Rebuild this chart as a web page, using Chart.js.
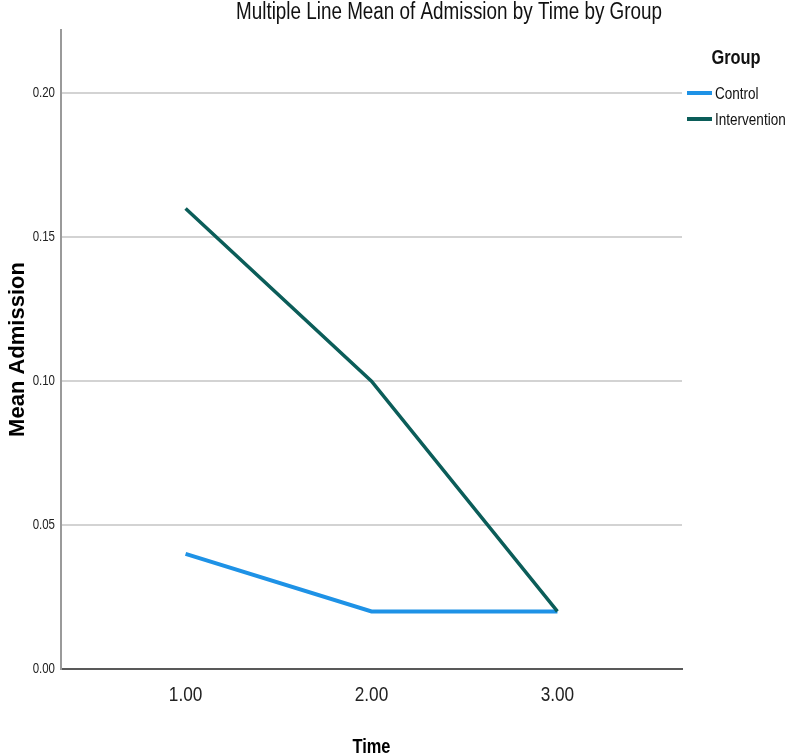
<!DOCTYPE html>
<html>
<head>
<meta charset="utf-8">
<title>Multiple Line Mean of Admission by Time by Group</title>
<script src="https://cdn.jsdelivr.net/npm/chart.js@4"></script>
<style>
  html, body { margin: 0; padding: 0; background: #fff; }
  #wrap { width: 786px; height: 756px; position: relative; }
</style>
</head>
<body>
<div id="wrap"><canvas id="chart"></canvas></div>
<script>
// data
const chartTitle = "Multiple Line Mean of Admission by Time by Group";
const legendTitle = "Group";
const times = [1, 2, 3];
const timeLabels = ["1.00", "2.00", "3.00"];
const groups = ["Control", "Intervention"];
const controlMeans = [0.04, 0.02, 0.02];
const interventionMeans = [0.16, 0.10, 0.02];
const yTicks = [0, 0.05, 0.10, 0.15, 0.20];

// no Arial Narrow here, so text asking for "Narrow" is squeezed sideways from Liberation Sans
const narrow = "'Liberation Sans Narrow', 'Liberation Sans', Arial, sans-serif";
const squeeze = 0.82;
const colors = ["#1e92e6", "#0b5d59"];

const narrowText = {
    id: "narrowText",
    beforeInit(chart) {
        const ctx = chart.ctx;
        const fill = ctx.fillText.bind(ctx);
        ctx.fillText = function (text, x, y, maxWidth) {
            if (this.font.indexOf("Narrow") < 0) {
                return fill(text, x, y, maxWidth);
            }
            this.save();
            this.translate(x, y);
            this.scale(squeeze, 1);
            fill(text, 0, 0);
            this.restore();
        };
    }
};

// title and legend are drawn by hand so they sit where the original has them
const titleAndLegend = {
    id: "titleAndLegend",
    afterDraw(chart) {
        const ctx = chart.ctx;
        ctx.save();
        ctx.fillStyle = "#111";
        ctx.font = "23px " + narrow;
        ctx.textAlign = "center";
        ctx.textBaseline = "alphabetic";
        ctx.fillText(chartTitle, 449, 19);

        ctx.font = "bold 20px " + narrow;
        ctx.fillText(legendTitle, 736, 64);

        ctx.textAlign = "left";
        ctx.textBaseline = "middle";
        ctx.font = "16.5px " + narrow;
        chart.data.datasets.forEach((ds, i) => {
            const y = 93 + i * 26;
            ctx.fillStyle = ds.borderColor;
            ctx.fillRect(687, y - 2, 25, 4);
            ctx.fillStyle = "#111";
            ctx.fillText(ds.label, 715, y + 1);
        });
        ctx.restore();
    }
};

const datasets = [
    {
        label: groups[0],
        data: times.map((t, i) => ({ x: t, y: controlMeans[i] })),
        borderColor: colors[0],
        borderWidth: 4,
        order: 1
    },
    {
        label: groups[1],
        data: times.map((t, i) => ({ x: t, y: interventionMeans[i] })),
        borderColor: colors[1],
        borderWidth: 3.5,
        order: 0
    }
];

const chart = new Chart(document.getElementById("chart"), {
    type: "line",
    data: { datasets: datasets },
    options: {
        responsive: true,
        maintainAspectRatio: false,
        animation: false,
        layout: { padding: { top: 30, right: 104, left: 0, bottom: 0 } },
        elements: {
            point: { radius: 0, hoverRadius: 0 },
            line: { tension: 0, fill: false, borderCapStyle: "butt", borderJoinStyle: "miter" }
        },
        plugins: {
            legend: { display: false },
            title: { display: false },
            tooltip: { enabled: false }
        },
        scales: {
            x: {
                type: "linear",
                min: 0.33,
                max: 3.67,
                afterBuildTicks: axis => { axis.ticks = times.map(v => ({ value: v })); },
                afterFit: axis => { axis.height = 87; },
                grid: { display: false, drawTicks: false },
                border: { display: true, color: "#595959", width: 2 },
                ticks: {
                    padding: 14,
                    color: "#222",
                    maxRotation: 0,
                    font: { family: narrow, size: 21 },
                    callback: v => timeLabels[times.indexOf(v)]
                },
                title: {
                    display: true,
                    text: "Time",
                    color: "#000",
                    font: { family: narrow, size: 20, weight: "bold", lineHeight: 1 },
                    padding: { top: 0, bottom: -1 }
                }
            },
            y: {
                min: 0,
                max: 0.222,
                afterBuildTicks: axis => { axis.ticks = yTicks.map(v => ({ value: v })); },
                afterFit: axis => { axis.width = 61; },
                grid: {
                    drawTicks: false,
                    lineWidth: 2,
                    color: c => (c.tick && c.tick.value === 0) ? "rgba(0,0,0,0)" : "#d3d3d3"
                },
                border: { display: true, color: "#9a9a9a", width: 2 },
                ticks: {
                    padding: 6,
                    color: "#222",
                    font: { family: narrow, size: 14 },
                    callback: v => v.toFixed(2)
                },
                title: {
                    display: true,
                    text: "Mean Admission",
                    color: "#000",
                    font: { family: "'Liberation Sans', Arial, sans-serif", size: 22, weight: "bold" },
                    padding: { top: 5, bottom: 0 }
                }
            }
        }
    },
    plugins: [narrowText, titleAndLegend]
});
</script>
</body>
</html>
